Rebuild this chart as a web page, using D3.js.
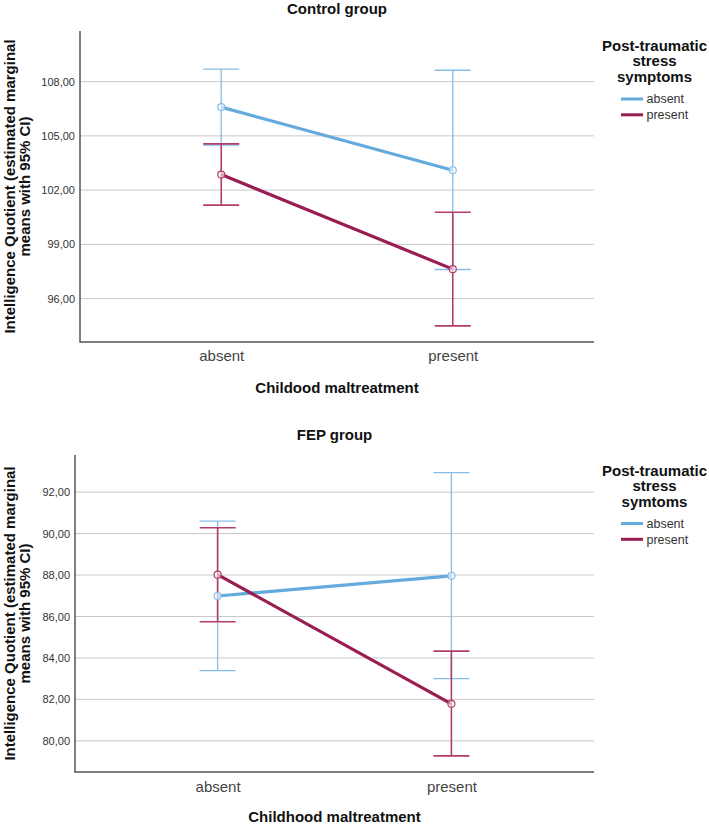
<!DOCTYPE html>
<html>
<head>
<meta charset="utf-8">
<script src="https://cdn.jsdelivr.net/npm/d3@7"></script>
<style>
  body { margin: 0; background: #fff; }
  svg { display: block; font-family: "Liberation Sans", Arial, sans-serif; }
</style>
</head>
<body>
<svg id="chart" width="709" height="825"></svg>
<script>
// ---------- DATA ----------
const categories = ["absent", "present"];           // Childhood maltreatment
const seriesNames = ["absent", "present"];          // Post-traumatic stress symptoms

// Control group
const controlAbsentMean  = [106.59, 103.10];
const controlAbsentLow   = [104.49, 97.61];
const controlAbsentHigh  = [108.69, 108.63];
const controlPresentMean = [102.86, 97.63];
const controlPresentLow  = [101.17, 94.49];
const controlPresentHigh = [104.56, 100.78];
const controlTicks = [96, 99, 102, 105, 108];
const controlDomain = [93.6, 110.8];

// FEP group
const fepAbsentMean  = [86.99, 87.96];
const fepAbsentLow   = [83.39, 83.00];
const fepAbsentHigh  = [90.60, 92.94];
const fepPresentMean = [88.02, 81.79];
const fepPresentLow  = [85.75, 79.28];
const fepPresentHigh = [90.28, 84.33];
const fepTicks = [80, 82, 84, 86, 88, 90, 92];
const fepDomain = [78.5, 93.79];

const lineColors = ["#64aadc", "#991d52"];
const barColors  = ["#86bde6", "#b23d6b"];

// ---------- DRAW ----------
const svg = d3.select("#chart");
const fmt = v => d3.format(".2f")(v).replace(".", ",");

function panel(cfg) {
  const g = svg.append("g");
  const x = d3.scalePoint().domain(categories).range([cfg.left, cfg.right]).padding(0.61);
  const y = d3.scaleLinear().domain(cfg.domain).range([cfg.bottom, cfg.top]);

  // gridlines
  g.append("g").selectAll("line").data(cfg.ticks).join("line")
    .attr("x1", cfg.left).attr("x2", cfg.right)
    .attr("y1", d => y(d)).attr("y2", d => y(d))
    .attr("stroke", "#c8c8c8").attr("stroke-width", 1);

  // y axis
  const ya = g.append("g").attr("transform", `translate(${cfg.left},0)`)
    .call(d3.axisLeft(y).tickValues(cfg.ticks).tickFormat(fmt).tickSize(0).tickPadding(5));
  ya.select(".domain").remove();
  ya.selectAll("text").attr("font-size", 11).attr("fill", "#333")
    .attr("font-family", "'Liberation Sans', Arial, sans-serif");

  // x axis
  const xa = g.append("g").attr("transform", `translate(0,${cfg.bottom})`)
    .call(d3.axisBottom(x).tickSize(0).tickPadding(0));
  xa.select(".domain").remove();
  xa.selectAll("text").attr("font-size", 15).attr("fill", "#444")
    .attr("dy", null).attr("y", cfg.xTickY - cfg.bottom)
    .attr("font-family", "'Liberation Sans', Arial, sans-serif");

  // axis lines
  g.append("line").attr("x1", cfg.left).attr("x2", cfg.left)
    .attr("y1", cfg.top).attr("y2", cfg.bottom + 0.75)
    .attr("stroke", "#555").attr("stroke-width", 1.5);
  g.append("line").attr("x1", cfg.left).attr("x2", cfg.right)
    .attr("y1", cfg.bottom).attr("y2", cfg.bottom)
    .attr("stroke", "#555").attr("stroke-width", 1.5);

  const series = cfg.series;
  const capW = 18;

  // error bars
  series.forEach((s, si) => {
    const eg = g.append("g").attr("stroke", barColors[si]).attr("stroke-width", si === 1 ? 1.6 : 1.3);
    categories.forEach((c, i) => {
      const cx = x(c);
      eg.append("line").attr("x1", cx).attr("x2", cx).attr("y1", y(s.low[i])).attr("y2", y(s.high[i]));
      eg.append("line").attr("x1", cx - capW).attr("x2", cx + capW).attr("y1", y(s.low[i])).attr("y2", y(s.low[i]));
      eg.append("line").attr("x1", cx - capW).attr("x2", cx + capW).attr("y1", y(s.high[i])).attr("y2", y(s.high[i]));
    });
  });

  // lines
  const line = d3.line().x((d, i) => x(categories[i])).y(d => y(d));
  series.forEach((s, si) => {
    g.append("path").datum(s.mean).attr("d", line)
      .attr("fill", "none").attr("stroke", lineColors[si]).attr("stroke-width", 3.2);
  });
  // markers
  series.forEach((s, si) => {
    g.append("g").selectAll("circle").data(s.mean).join("circle")
      .attr("cx", (d, i) => x(categories[i])).attr("cy", d => y(d)).attr("r", 3.5)
      .attr("fill", "rgba(255,255,255,0.6)").attr("stroke", barColors[si]).attr("stroke-width", 1.2);
  });

  // title
  g.append("text").attr("x", (cfg.left + cfg.right) / 2).attr("y", cfg.titleY)
    .attr("text-anchor", "middle").attr("font-size", 15).attr("font-weight", "bold")
    .attr("fill", "#111").text(cfg.title);

  // x axis title
  g.append("text").attr("x", (cfg.left + cfg.right) / 2).attr("y", cfg.xTitleY)
    .attr("text-anchor", "middle").attr("font-size", 15).attr("font-weight", "bold")
    .attr("fill", "#111").text(cfg.xTitle);

  // y axis title
  const cy = (cfg.top + cfg.bottom) / 2;
  const yt = g.append("text").attr("transform", `translate(0,${cy}) rotate(-90)`)
    .attr("text-anchor", "middle").attr("font-size", 15).attr("font-weight", "bold").attr("fill", "#111");
  yt.append("tspan").attr("x", 0).attr("y", 14.5).text("Intelligence Quotient (estimated marginal");
  yt.append("tspan").attr("x", 0).attr("y", 30).text("means with 95% CI)");

  // legend
  const lg = g.append("g");
  cfg.legendTitle.forEach((t, i) => {
    lg.append("text").attr("x", 654.5).attr("y", cfg.legendY + i * 15.5)
      .attr("text-anchor", "middle").attr("font-size", 15).attr("font-weight", "bold")
      .attr("fill", "#111").text(t);
  });
  seriesNames.forEach((n, i) => {
    const ly = cfg.legendItemY + i * 15.8;
    lg.append("line").attr("x1", 621).attr("x2", 643).attr("y1", ly).attr("y2", ly)
      .attr("stroke", lineColors[i]).attr("stroke-width", 3);
    lg.append("text").attr("x", 646.5).attr("y", ly + 4.3).attr("font-size", 12.5)
      .attr("fill", "#333").text(n);
  });
}

panel({
  left: 80, right: 594, top: 31, bottom: 342,
  domain: controlDomain, ticks: controlTicks,
  title: "Control group", titleY: 13.5,
  xTitle: "Childood maltreatment", xTitleY: 393, xTickY: 361,
  legendTitle: ["Post-traumatic", "stress", "symptoms"], legendY: 50.5, legendItemY: 99,
  series: [
    { mean: controlAbsentMean, low: controlAbsentLow, high: controlAbsentHigh },
    { mean: controlPresentMean, low: controlPresentLow, high: controlPresentHigh }
  ]
});

panel({
  left: 75, right: 594, top: 455, bottom: 772,
  domain: fepDomain, ticks: fepTicks,
  title: "FEP group", titleY: 439.5,
  xTitle: "Childhood maltreatment", xTitleY: 822, xTickY: 791.5,
  legendTitle: ["Post-traumatic", "stress", "symtoms"], legendY: 475.5, legendItemY: 523.5,
  series: [
    { mean: fepAbsentMean, low: fepAbsentLow, high: fepAbsentHigh },
    { mean: fepPresentMean, low: fepPresentLow, high: fepPresentHigh }
  ]
});
</script>
</body>
</html>
